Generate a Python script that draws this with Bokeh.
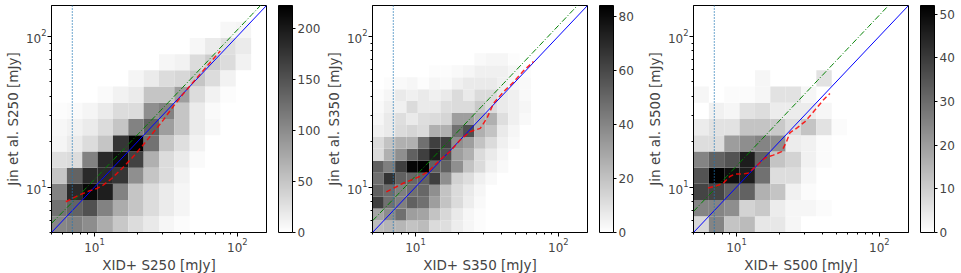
import numpy as np
from bokeh.plotting import figure
from bokeh.layouts import row
from bokeh.models import (ColumnDataSource, LinearColorMapper, ColorBar, FixedTicker,
                          LogTickFormatter, Span)
from bokeh.palettes import Greys256
from bokeh.embed import file_html
from bokeh.resources import INLINE

# ---------------- data ----------------
AX_MIN, AX_MAX = 5, 160
FLUX_CUT = 7.0

bands = ["S250", "S350", "S500"]
n_bins = [14, 19, 14]

# 2D histogram counts, rows from bottom (low Jin flux) to top, columns from low XID+ flux
counts_250 = [
    [105, 110, 100,  73,  48,  31,  20,   8,   3,   0,   0,   0,   0,   0],
    [123, 136, 152, 109,  73,  51,  31,  18,   9,   0,   0,   0,   0,   0],
    [109, 187, 216, 196, 109,  51,  31,  18,   8,   0,   0,   0,   0,   0],
    [ 51, 136, 187, 187, 176,  98,  51,  31,  12,   0,   0,   0,   0,   0],
    [ 28,  31, 109, 187, 210, 165,  69,  31,  18,   5,   0,   0,   0,   0],
    [  9,  18,  31,  51, 176, 223, 123,  51,  28,  12,   0,   0,   0,   0],
    [  7,  12,  18,  31,  51, 109, 140,  85,  51,  18,   7,   0,   0,   0],
    [  3,   5,   9,  18,  31,  31,  98, 109,  51,  18,   5,   0,   0,   0],
    [  0,   0,   0,   5,  12,  18,  51,  51,  85,  31,  12,   3,   0,   0],
    [  0,   0,   0,   0,   0,   9,  18,  31,  35,  51,  31,  12,   0,   0],
    [  0,   0,   0,   0,   0,   0,   0,   8,  12,  31,  45,  31,  12,   0],
    [  0,   0,   0,   0,   0,   0,   0,   0,   0,   7,  18,  28,  18,   0],
    [  0,   0,   0,   0,   0,   0,   0,   0,   0,   0,   0,   7,   9,   0],
    [  0,   0,   0,   0,   0,   0,   0,   0,   0,   0,   0,   0,   0,   0],
]

counts_350 = [
    [22, 24, 24, 20, 22, 12, 11,  6,  3,  1,  0,  0,  0,  0,  0,  0,  0,  0,  0],
    [30, 38, 47, 32, 30, 20, 13,  7,  3,  1,  0,  0,  0,  0,  0,  0,  0,  0,  0],
    [63, 47, 42, 52, 47, 32, 20, 12,  6,  2,  0,  0,  0,  0,  0,  0,  0,  0,  0],
    [52, 48, 42, 47, 50, 37, 20, 12,  7,  3,  0,  0,  0,  0,  0,  0,  0,  0,  0],
    [47, 67, 52, 50, 52, 63, 37, 15, 11,  5,  2,  0,  0,  0,  0,  0,  0,  0,  0],
    [52, 42, 63, 82, 84, 52, 52, 37, 20, 12,  5,  2,  0,  0,  0,  0,  0,  0,  0],
    [12, 26, 37, 52, 63, 75, 58, 32, 26, 12,  7,  3,  0,  0,  0,  0,  0,  0,  0],
    [12, 20, 26, 26, 47, 63, 63, 37, 32, 20, 12,  5,  2,  0,  0,  0,  0,  0,  0],
    [ 5,  7, 12, 14, 12, 26, 26, 47, 58, 26, 20,  7,  3,  0,  0,  0,  0,  0,  0],
    [ 3,  7, 11,  7, 11, 12, 14, 32, 32, 26, 26, 11,  5,  2,  0,  0,  0,  0,  0],
    [ 2,  5,  5, 12,  7,  7, 11, 12, 12, 18, 12,  7,  5,  3,  0,  0,  0,  0,  0],
    [ 1,  3,  7,  5,  7,  5,  7, 12,  7, 12, 12,  7,  5,  2,  0,  0,  0,  0,  0],
    [ 0,  1,  2,  3,  1,  3,  2,  5,  7,  7,  7,  5,  3,  2,  0,  0,  0,  0,  0],
    [ 0,  0,  0,  0,  0,  1,  1,  2,  3,  5,  5,  5,  3,  1,  0,  0,  0,  0,  0],
    [ 0,  0,  0,  0,  0,  0,  0,  0,  0,  2,  3,  3,  1,  0,  0,  0,  0,  0,  0],
    [ 0,  0,  0,  0,  0,  0,  0,  0,  0,  0,  0,  0,  0,  0,  0,  0,  0,  0,  0],
    [ 0,  0,  0,  0,  0,  0,  0,  0,  0,  0,  0,  0,  0,  0,  0,  0,  0,  0,  0],
    [ 0,  0,  0,  0,  0,  0,  0,  0,  0,  0,  0,  0,  0,  0,  0,  0,  0,  0,  0],
    [ 0,  0,  0,  0,  0,  0,  0,  0,  0,  0,  0,  0,  0,  0,  0,  0,  0,  0,  0],
]

counts_500 = [
    [ 8, 25, 12, 14,  5,  5,  2,  0,  0,  0,  0,  0,  0,  0],
    [25, 25, 23,  9, 11,  4,  2,  2,  1,  0,  0,  0,  0,  0],
    [38, 38, 32, 32, 16, 12,  3,  1,  0,  0,  0,  0,  0,  0],
    [35, 52, 49, 46, 29,  7,  7,  2,  0,  0,  0,  0,  0,  0],
    [25, 32, 35, 46, 32, 12,  9,  3,  1,  0,  0,  0,  0,  0],
    [ 7,  7, 20, 23, 25, 23,  4,  3,  1,  0,  0,  0,  0,  0],
    [ 4,  6,  6, 12, 12, 11,  7, 12,  6,  1,  0,  0,  0,  0],
    [ 0,  3,  2,  6,  7,  4,  4,  4,  2,  0,  0,  0,  0,  0],
    [ 2,  0,  1,  1,  2,  6,  6,  2,  0,  0,  0,  0,  0,  0],
    [ 0,  0,  0,  0,  2,  0,  0,  0,  6,  0,  0,  0,  0,  0],
    [ 0,  0,  0,  0,  0,  0,  0,  0,  0,  0,  0,  0,  0,  0],
    [ 0,  0,  0,  0,  0,  0,  0,  0,  0,  0,  0,  0,  0,  0],
    [ 0,  0,  0,  0,  0,  0,  0,  0,  0,  0,  0,  0,  0,  0],
    [ 0,  0,  0,  0,  0,  0,  0,  0,  0,  0,  0,  0,  0,  0],
]

# running median (red dashed)
median_x_250 = [6.3, 7.7, 9.1, 10.4, 11.5, 13.2, 15.6, 18.3, 21.5, 25.3, 30.0, 35.0, 40.0, 48.0, 57.0, 66.0, 76.0]
median_y_250 = [8.0, 8.8, 9.4, 9.8, 10.3, 11.4, 13.3, 15.6, 18.6, 22.5, 27.5, 33.5, 39.5, 48.5, 58.5, 68.5, 80.0]
median_x_350 = [6.25, 8.2, 10.7, 12.3, 14.8, 17.4, 20.5, 24.1, 28.4, 31.6, 35.2, 41.4, 48.7, 57.0, 67.0]
median_y_350 = [9.3, 10.6, 11.75, 12.7, 15.1, 17.2, 20.5, 23.3, 24.5, 28.6, 35.9, 42.9, 49.9, 59.0, 68.0]
median_x_500 = [6.33, 7.24, 8.06, 8.98, 9.73, 11.1, 12.1, 13.8, 15.8, 18.1, 20.7, 22.4, 23.7, 26.4, 30.2, 35.4, 40.5, 45.1]
median_y_500 = [9.85, 10.2, 10.6, 11.75, 12.2, 12.2, 12.4, 13.8, 15.6, 16.3, 17.2, 20.0, 23.0, 24.6, 27.2, 32.4, 37.8, 41.8]

# linear fits (green dash-dot): y = slope * x + intercept
fit_slope = [1.10, 1.175, 1.38]
fit_intercept = [0.25, 0.10, 0.0]

cb_ticks = [[0, 50, 100, 150, 200], [0, 20, 40, 60, 80], [0, 10, 20, 30, 40, 50]]

all_counts = [counts_250, counts_350, counts_500]
all_mx = [median_x_250, median_x_350, median_x_500]
all_my = [median_y_250, median_y_350, median_y_500]

# ---------------- layout ----------------
FW, FH = 215, 227
CB_GAP, CB_W = 12, 14
FONT = "DejaVu Sans"
palette = list(reversed(Greys256))
border_left = 51
border_right = [55, 55, 50]


def make_panel(k):
    counts = np.array(all_counts[k], dtype=float)
    nb = n_bins[k]
    edges = np.logspace(np.log10(AX_MIN), np.log10(AX_MAX), nb + 1)
    left, right, bottom, top, cnt = [], [], [], [], []
    for i in range(nb):
        for j in range(nb):
            if counts[i, j] > 0:
                left.append(edges[j]); right.append(edges[j + 1])
                bottom.append(edges[i]); top.append(edges[i + 1])
                cnt.append(counts[i, j])
    src = ColumnDataSource(dict(left=left, right=right, bottom=bottom, top=top, c=cnt))
    mapper = LinearColorMapper(palette=palette, low=0, high=float(counts.max()))

    p = figure(x_axis_type="log", y_axis_type="log",
               x_range=(AX_MIN, AX_MAX), y_range=(AX_MIN, AX_MAX),
               frame_width=FW, frame_height=FH,
               min_border_left=border_left, min_border_right=border_right[k],
               min_border_top=5, min_border_bottom=10,
               output_backend="svg", toolbar_location=None)
    p.grid.visible = False
    p.outline_line_color = "black"
    p.outline_line_width = 1
    p.background_fill_color = "white"

    p.quad(left="left", right="right", bottom="bottom", top="top", source=src,
           fill_color={"field": "c", "transform": mapper}, line_color=None)

    # 1:1 line
    p.line([AX_MIN, AX_MAX], [AX_MIN, AX_MAX], color="blue", line_width=1)
    # linear fit
    xf = np.logspace(np.log10(AX_MIN), np.log10(AX_MAX), 60)
    p.line(xf, fit_slope[k] * xf + fit_intercept[k], color="green",
           line_width=1, line_dash="6 2 1 2")
    # running median
    p.line(all_mx[k], all_my[k], color="red", line_width=1.5, line_alpha=0.85,
           line_dash="5 3")
    # flux cut
    p.add_layout(Span(location=FLUX_CUT, dimension="height", line_color="#1f77b4",
                      line_width=1.3, line_dash="1 2"))

    for ax in (p.xaxis[0], p.yaxis[0]):
        ax.ticker = FixedTicker(ticks=[10, 100],
                                minor_ticks=[5, 6, 7, 8, 9, 20, 30, 40, 50, 60, 70, 80, 90])
        ax.formatter = LogTickFormatter()
        ax.major_tick_in = 0
        ax.major_tick_out = 4
        ax.minor_tick_in = 0
        ax.minor_tick_out = 2
        ax.major_label_text_font = FONT
        ax.major_label_text_font_size = "12px"
        ax.major_label_standoff = 1
        ax.axis_label_text_font = FONT
        ax.axis_label_text_font_size = "13.5px"
        ax.axis_label_text_font_style = "normal"
        ax.axis_label_standoff = 2
        ax.axis_line_color = "black"
    p.xaxis.axis_label = "XID+ " + bands[k] + " [mJy]"
    p.yaxis.axis_label = "Jin et al. " + bands[k] + " [mJy]"

    cb = ColorBar(color_mapper=mapper, ticker=FixedTicker(ticks=cb_ticks[k]),
                  location=(FW + CB_GAP, 0),
                  width=CB_W, height=FH, padding=0, margin=0, label_standoff=2,
                  major_tick_in=0, major_tick_out=3, major_tick_line_color="black",
                  minor_tick_line_color=None,
                  bar_line_color="black", bar_line_width=1,
                  major_label_text_font=FONT, major_label_text_font_size="12px",
                  background_fill_color=None, border_line_color=None)
    p.add_layout(cb, "center")
    return p


panels = [make_panel(k) for k in range(3)]
layout = row(*panels, spacing=0)

open("out.html", "w").write(file_html(layout, INLINE))
